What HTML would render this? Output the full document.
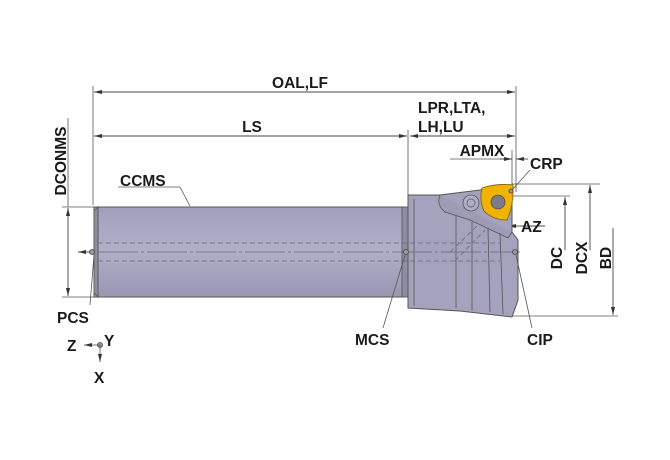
<!DOCTYPE html>
<html><head><meta charset="utf-8"><style>
html,body{margin:0;padding:0;background:#fff;width:670px;height:460px;overflow:hidden}
text{font-family:"Liberation Sans",Arial,sans-serif;font-weight:bold;font-size:15.5px;fill:#1a1a1a}
</style></head><body>
<svg width="670" height="460" viewBox="0 0 670 460" xmlns="http://www.w3.org/2000/svg">
<defs>
<marker id="a" markerWidth="8" markerHeight="6" refX="8" refY="3" orient="auto" markerUnits="userSpaceOnUse"><path d="M0,1 L8,3 L0,5z" fill="#333"/></marker>
<linearGradient id="sh" x1="0" y1="0" x2="0" y2="1"><stop offset="0" stop-color="#a19fbb"/><stop offset="0.5" stop-color="#b1afc8"/><stop offset="1" stop-color="#9896b0"/></linearGradient>
</defs>
<g stroke="#555" stroke-width="0.8" fill="none">
<line x1="93" y1="86" x2="93" y2="205"/>
<line x1="516" y1="86" x2="516" y2="192"/>
<line x1="408" y1="130" x2="408" y2="195"/>
<line x1="512" y1="150" x2="512" y2="190"/>
<line x1="62" y1="207" x2="94" y2="207"/>
<line x1="62" y1="297" x2="94" y2="297"/>
<line x1="512" y1="184" x2="600" y2="184"/>
<line x1="512" y1="196" x2="570" y2="196"/>
<line x1="510" y1="316" x2="618" y2="316"/>
<line x1="68" y1="118" x2="68" y2="207"/>
<line x1="450" y1="159" x2="512" y2="159"/>
</g>
<g stroke="#444" stroke-width="0.9" fill="none">
<line x1="300" y1="92" x2="94" y2="92" marker-end="url(#a)"/>
<line x1="300" y1="92" x2="515" y2="92" marker-end="url(#a)"/>
<line x1="250" y1="136" x2="94" y2="136" marker-end="url(#a)"/>
<line x1="250" y1="136" x2="407" y2="136" marker-end="url(#a)"/>
<line x1="460" y1="136" x2="410" y2="136" marker-end="url(#a)"/>
<line x1="460" y1="136" x2="515" y2="136" marker-end="url(#a)"/>
<line x1="528" y1="159" x2="516" y2="159" marker-end="url(#a)"/>
<line x1="500" y1="159" x2="512" y2="159" marker-end="url(#a)"/>
<line x1="68" y1="250" x2="68" y2="208" marker-end="url(#a)"/>
<line x1="68" y1="250" x2="68" y2="296" marker-end="url(#a)"/>
<line x1="565" y1="250" x2="565" y2="197" marker-end="url(#a)"/>
<line x1="590" y1="250" x2="590" y2="185" marker-end="url(#a)"/>
<line x1="613" y1="228" x2="613" y2="315" marker-end="url(#a)"/>
<line x1="520" y1="226" x2="508" y2="226" marker-end="url(#a)"/>
<line x1="520" y1="226" x2="545" y2="226"/>
<line x1="92" y1="252" x2="78" y2="252" marker-end="url(#a)"/>
</g>
<rect x="94" y="207" width="312" height="90" fill="url(#sh)" stroke="#555" stroke-width="1"/>
<path d="M98,207 L94,211 L94,293 L98,297z" fill="#8f8da3" stroke="#555" stroke-width="0.8"/>
<line x1="98" y1="207" x2="98" y2="297" stroke="#555" stroke-width="0.8"/>
<rect x="402" y="207" width="6" height="90" fill="#8e8ca2" stroke="#555" stroke-width="0.8"/>
<path d="M408,195 L440,195 L512,186 L512,232 L518,240 L518,300 L512,317 L460,311 L408,308z" fill="#a4a2bd" stroke="#555" stroke-width="1"/>
<path d="M440,195 Q436,205 445,212 L470,220 L508,238 L512,232" fill="#9e9cb5" stroke="#555" stroke-width="0.8"/>
<g stroke="#555" stroke-width="0.8">
<line x1="414" y1="199" x2="414" y2="306"/>
<line x1="456" y1="215" x2="456" y2="308"/>
<line x1="472" y1="222" x2="472" y2="310"/>
<line x1="488" y1="228" x2="490" y2="312"/>
<line x1="500" y1="233" x2="503" y2="314"/>
</g>
<circle cx="471" cy="203" r="8" fill="#b0aec6" stroke="#555" stroke-width="0.8"/>
<circle cx="471" cy="203" r="4" fill="none" stroke="#555" stroke-width="0.7"/>
<path d="M482,188 Q497,183 513,185 Q514,205 507,220 Q493,220 484,211 Q479,200 482,188z" fill="#f0b400" stroke="#7a5a00" stroke-width="0.8"/>
<circle cx="498" cy="202" r="7" fill="#7d7b8a" stroke="#333" stroke-width="0.6"/>
<g stroke="#6a687a" stroke-width="0.8" fill="none">
<line x1="98" y1="252" x2="520" y2="252" stroke-dasharray="40,3,3,3"/>
<line x1="98" y1="243" x2="500" y2="243" stroke-dasharray="5,3"/>
<line x1="98" y1="261" x2="500" y2="261" stroke-dasharray="5,3"/>
<line x1="450" y1="252" x2="478" y2="225" stroke-dasharray="5,3"/>
<line x1="455" y1="261" x2="485" y2="230" stroke-dasharray="5,3"/>
</g>
<g fill="#999" stroke="#444" stroke-width="0.8">
<circle cx="92" cy="252" r="2.5"/><circle cx="406" cy="252" r="2.5"/><circle cx="515" cy="252" r="2.5"/>
<circle cx="100" cy="345" r="2.5"/><circle cx="511" cy="191" r="2"/>
</g>
<g stroke="#555" stroke-width="0.8" fill="none">
<line x1="118" y1="187" x2="180" y2="187"/><line x1="180" y1="187" x2="190" y2="206"/>
<line x1="90" y1="305" x2="94" y2="255"/>
<line x1="383" y1="328" x2="405" y2="255"/>
<line x1="532" y1="328" x2="516" y2="255"/>
<line x1="530" y1="170" x2="512" y2="190"/>
<line x1="100" y1="345" x2="84" y2="345" marker-end="url(#a)"/>
<line x1="100" y1="345" x2="100" y2="362" marker-end="url(#a)"/>
</g>
<text x="300" y="88" text-anchor="middle">OAL,LF</text>
<text x="252" y="132" text-anchor="middle">LS</text>
<text x="418" y="113">LPR,LTA,</text>
<text x="418" y="132">LH,LU</text>
<text x="482" y="156" text-anchor="middle">APMX</text>
<text x="530" y="169">CRP</text>
<text x="521" y="232">AZ</text>
<text x="120" y="186">CCMS</text>
<text x="57" y="323">PCS</text>
<text x="355" y="345">MCS</text>
<text x="527" y="345">CIP</text>
<text x="67" y="351">Z</text>
<text x="104" y="346">Y</text>
<text x="94" y="383">X</text>
<text transform="translate(66,161) rotate(-90)" text-anchor="middle">DCONMS</text>
<text transform="translate(562,258) rotate(-90)" text-anchor="middle">DC</text>
<text transform="translate(587,258) rotate(-90)" text-anchor="middle">DCX</text>
<text transform="translate(611,258) rotate(-90)" text-anchor="middle">BD</text>
</svg>
</body></html>
